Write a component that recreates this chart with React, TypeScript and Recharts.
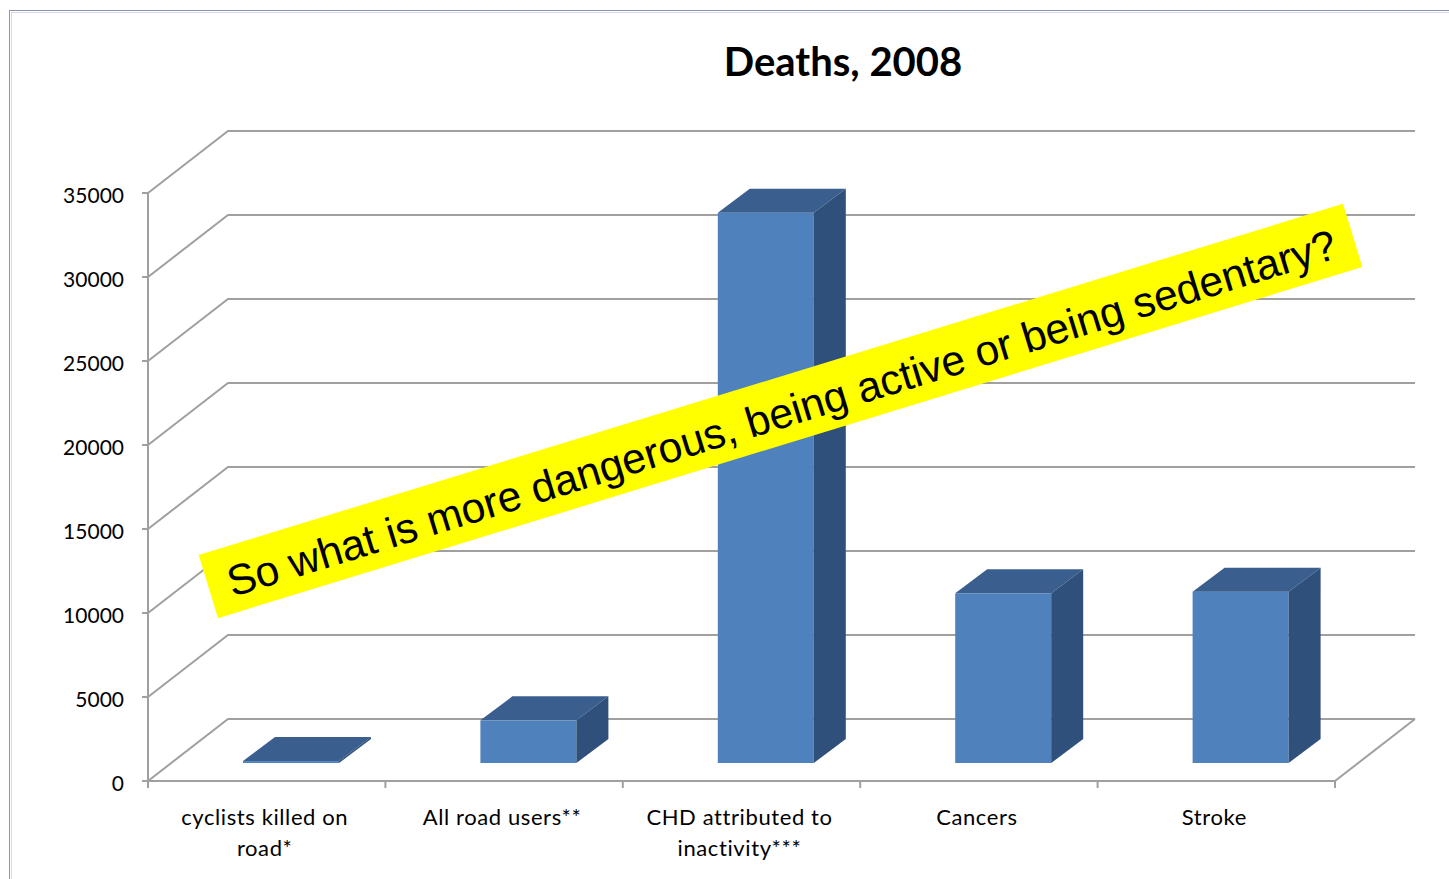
import React from "react";
import { BarChart, Bar, XAxis, YAxis, CartesianGrid } from "recharts";

// values
const categories = [
  "cyclists killed on\nroad*",
  "All road users**",
  "CHD attributed to\ninactivity***",
  "Cancers",
  "Stroke",
];
const deaths = [115, 2538, 32750, 10100, 10200];
const yTicks = [0, 5000, 10000, 15000, 20000, 25000, 30000, 35000];
const title = "Deaths, 2008";
const bannerText = "So what is more dangerous, being active or being sedentary?";

const data = categories.map((name, i) => ({ name, deaths: deaths[i] }));

const W = 1449;
const H = 879;
const PLOT_LEFT = 148;
const PLOT_RIGHT = 1335;
const PLOT_TOP = 193;
const PLOT_BOTTOM = 781;

// depth of the floor / side wall
const DEPTH_X = 80;
const DEPTH_Y = 62;
// bars sit part way back on the floor
const BAR_DX = 24;
const BAR_DY = 18;
const BAR_DEPTH_X = 32;
const BAR_DEPTH_Y = 24;

const GRID = "#A0A0A0";
const FONT = "Lato, 'Open Sans', sans-serif";

const gridLine = (props: any) => {
  const { x1, y1, x2, y2 } = props;
  const isFloor = Math.abs(y1 - PLOT_BOTTOM) < 1;
  return (
    <g key={`grid-${y1}`}>
      <polyline
        points={`${x1},${y1} ${x1 + DEPTH_X},${y1 - DEPTH_Y} ${x2 + DEPTH_X},${y2 - DEPTH_Y}`}
        fill="none"
        stroke={GRID}
        strokeWidth={2}
      />
      {isFloor && (
        <line
          x1={x2}
          y1={y2}
          x2={x2 + DEPTH_X}
          y2={y2 - DEPTH_Y}
          stroke={GRID}
          strokeWidth={2}
        />
      )}
    </g>
  );
};

const Bar3D = (props: any) => {
  const { x, y, width, height } = props;
  const fx = x + BAR_DX;
  const fy = y - BAR_DY;
  const h = Math.max(height, 0);
  return (
    <g>
      <rect x={fx} y={fy} width={width} height={h} fill="#4F81BD" />
      <polygon
        points={`${fx},${fy} ${fx + width},${fy} ${fx + width + BAR_DEPTH_X},${fy - BAR_DEPTH_Y} ${fx + BAR_DEPTH_X},${fy - BAR_DEPTH_Y}`}
        fill="#3A5F8F"
      />
      <polygon
        points={`${fx + width},${fy} ${fx + width + BAR_DEPTH_X},${fy - BAR_DEPTH_Y} ${fx + width + BAR_DEPTH_X},${fy - BAR_DEPTH_Y + h} ${fx + width},${fy + h}`}
        fill="#2F507A"
      />
    </g>
  );
};

const XTick = (props: any) => {
  const { x, y, payload, index } = props;
  const half = (PLOT_RIGHT - PLOT_LEFT) / categories.length / 2;
  const axisY = y - 8;
  const lines = String(payload.value).split("\n");
  return (
    <g>
      <line x1={x - half} y1={axisY} x2={x - half} y2={axisY + 7} stroke={GRID} strokeWidth={2} />
      {index === categories.length - 1 && (
        <line x1={x + half} y1={axisY} x2={x + half} y2={axisY + 7} stroke={GRID} strokeWidth={2} />
      )}
      <text
        x={x - 2}
        y={axisY + 44}
        textAnchor="middle"
        fontFamily={FONT}
        fontSize={22}
        letterSpacing={0.6}
        fill="#000"
      >
        {lines.map((l, i) => (
          <tspan key={i} x={x - 2} dy={i === 0 ? 0 : 31}>
            {l}
          </tspan>
        ))}
      </text>
    </g>
  );
};

const YTick = (props: any) => {
  const { x, y, payload } = props;
  return (
    <text x={x} y={y} dy={10} textAnchor="end" fontFamily={FONT} fontSize={21} fill="#000">
      {payload.value}
    </text>
  );
};

export default function App() {
  const bannerW = 1197;
  const bannerH = 66;
  const bannerCx = 780;
  const bannerCy = 411;
  return (
    <div style={{ position: "absolute", left: 0, top: 0, width: W, height: H, overflow: "hidden", background: "#fff" }}>
      <svg width={W} height={H} style={{ position: "absolute", left: 0, top: 0 }}>
        <rect x={9.5} y={10.5} width={W + 20} height={H + 20} fill="none" stroke="#8A94B4" strokeWidth={1} />
        <rect x={11.5} y={12.5} width={W + 20} height={H + 20} fill="none" stroke="#D6DAE4" strokeWidth={1} />
        <text x={843} y={76} textAnchor="middle" fontFamily={FONT} fontWeight={700} fontSize={40} fill="#000">
          {title}
        </text>
      </svg>
      <div style={{ position: "absolute", left: 0, top: 0 }}>
        <BarChart
          width={W}
          height={H}
          data={data}
          margin={{ top: PLOT_TOP, right: W - PLOT_RIGHT, left: PLOT_LEFT - 60, bottom: H - PLOT_BOTTOM - 30 }}
        >
          <CartesianGrid horizontal={gridLine} vertical={false} />
          <YAxis
            width={60}
            domain={[0, 35000]}
            ticks={yTicks}
            interval={0}
            axisLine={{ stroke: GRID, strokeWidth: 2 }}
            tickLine={{ stroke: GRID, strokeWidth: 2 }}
            tickSize={6}
            tickMargin={18}
            tick={<YTick />}
          />
          <XAxis
            dataKey="name"
            height={30}
            interval={0}
            axisLine={{ stroke: GRID, strokeWidth: 2 }}
            tickLine={false}
            tick={<XTick />}
          />
          <Bar dataKey="deaths" barSize={96} shape={<Bar3D />} isAnimationActive={false} />
        </BarChart>
      </div>
      <div
        style={{
          position: "absolute",
          left: bannerCx - bannerW / 2,
          top: bannerCy - bannerH / 2,
          width: bannerW,
          height: bannerH,
          background: "#FFFF00",
          transform: "rotate(-17.06deg)",
          display: "flex",
          alignItems: "center",
          boxSizing: "border-box",
          paddingLeft: 20,
          paddingTop: 4,
          whiteSpace: "nowrap",
          fontFamily: "'Liberation Sans', Arial, sans-serif",
          fontSize: 42.6,
          color: "#000",
        }}
      >
        {bannerText}
      </div>
    </div>
  );
}
